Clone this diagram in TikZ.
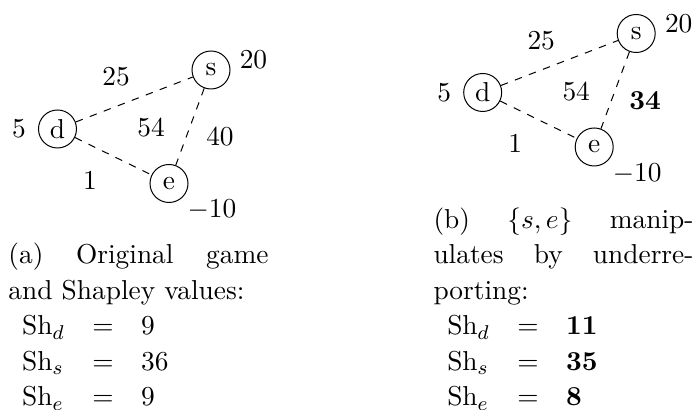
\documentclass[tikz,border=0pt]{standalone}

\tikzset{
  vertex/.style={circle,draw,minimum size=15.2pt,inner sep=0pt},
  link/.style={dashed},
  lbl/.style={inner sep=0pt},
  subcap/.style={anchor=base west,inner sep=0pt}
}

\begin{document}
\begin{tikzpicture}[x=0.4pt,y=-0.4pt,font=\fontsize{10.95}{14.2}\selectfont]
  \useasboundingbox (0,0) rectangle (695,410);
  % (a) original game
  \node [vertex] (ld) at (57.5,129) {d};
  \node [vertex] (ls) at (211,70) {s};
  \node [vertex] (le) at (169,183.5) {e};
  \draw [link] (ld) -- (ls);
  \draw [link] (ld) -- (le);
  \draw [link] (ls) -- (le);
  \node [lbl] (lvd) at (19,129) {5};
  \node [lbl] (lvs) at (253.5,60) {20};
  \node [lbl] (lve) at (212,210) {$-10$};
  \node [lbl] (lwds) at (116,77) {25};
  \node [lbl] (lwall) at (151,128) {54};
  \node [lbl] (lwse) at (220,137) {40};
  \node [lbl] (lwde) at (90,180) {1};
  % (b) s and e underreport
  \begin{scope}[shift={(425.2,-36.5)}]
    \node [vertex] (rd) at (57.5,129) {d};
    \node [vertex] (rs) at (211,70) {s};
    \node [vertex] (re) at (169,183.5) {e};
    \draw [link] (rd) -- (rs);
    \draw [link] (rd) -- (re);
    \draw [link] (rs) -- (re);
    \node [lbl] (rvd) at (19,129) {5};
    \node [lbl] (rvs) at (253.5,60) {20};
    \node [lbl] (rve) at (212,210) {$-10$};
    \node [lbl] (rwds) at (116,77) {25};
    \node [lbl] (rwall) at (151,128) {54};
    \node [lbl] (rwse) at (220,137) {\textbf{34}};
    \node [lbl] (rwde) at (90,180) {1};
  \end{scope}
  \node [subcap] (lcap) at (8,264) {\parbox[t]{104pt}{\arraycolsep=5.5pt
    (a) Original game\linebreak and Shapley values:\\
    $\begin{array}[t]{lcl}
      \mathrm{Sh}_d & = & 9\\
      \mathrm{Sh}_s & = & 36\\
      \mathrm{Sh}_e & = & 9
    \end{array}$}};
  \node [subcap] (rcap) at (433,228.5) {\parbox[t]{104pt}{\arraycolsep=5.5pt
    (b) $\{s,e\}$ manip-\linebreak ulates by underre-\linebreak porting:\\
    $\begin{array}[t]{lcl}
      \mathrm{Sh}_d & = & \mathbf{11}\\
      \mathrm{Sh}_s & = & \mathbf{35}\\
      \mathrm{Sh}_e & = & \mathbf{8}
    \end{array}$}};
\end{tikzpicture}
\end{document}
